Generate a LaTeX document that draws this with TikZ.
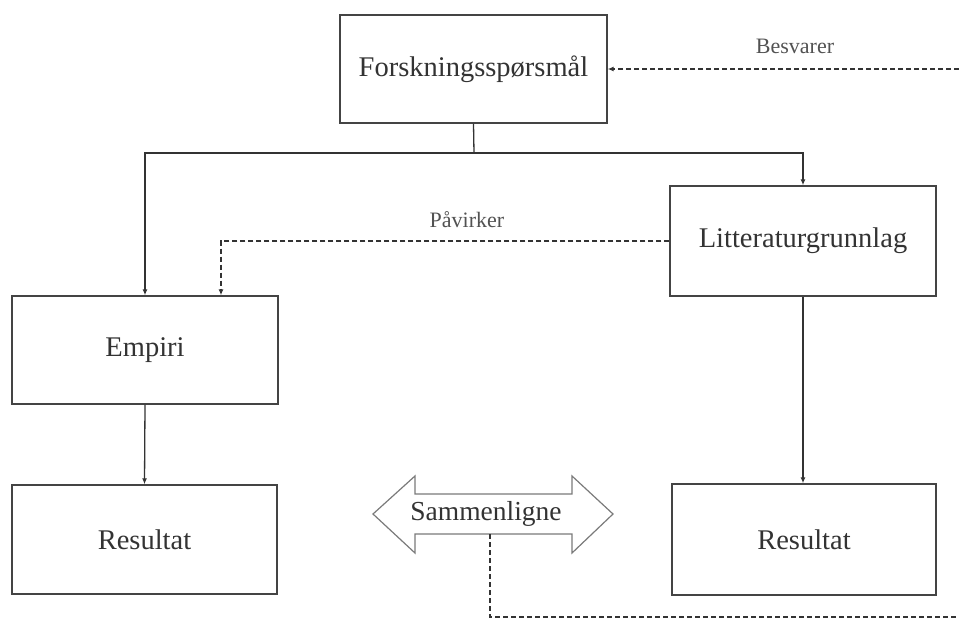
\documentclass[tikz,border=0pt]{standalone}
\usepackage{fontspec}
\setmainfont{Liberation Serif}
\usetikzlibrary{arrows.meta}
\definecolor{ink}{HTML}{333333}
\definecolor{frame}{HTML}{444444}
\definecolor{outline}{HTML}{7A7A7A}
\begin{document}
\begin{tikzpicture}[x=1pt,y=-1pt,
  box/.style={draw=frame,line width=1.4pt,rectangle,inner sep=0pt,text=ink,
    font=\fontsize{28.5}{31}\selectfont},
  lbl/.style={inner sep=0pt,text=ink!85,font=\fontsize{22}{26}\selectfont},
  link/.style={draw=ink,line width=1.3pt,-{Latex[length=6pt,width=5pt]}},
  hint/.style={link,dash pattern=on 5pt off 3pt}]
\path[use as bounding box] (0,0) rectangle (959,619);

% boxes
\node[box,minimum width=267pt,minimum height=108pt] (fq)   at (473.5,69)  {Forskningsspørsmål};
\node[box,minimum width=266pt,minimum height=110pt] (lit)  at (803,241)   {Litteraturgrunnlag};
\node[box,minimum width=266pt,minimum height=108pt] (emp)  at (145,350)   {Empiri};
\node[box,minimum width=265pt,minimum height=109pt] (resl) at (144.5,539.5) {Resultat};
\node[box,minimum width=264pt,minimum height=111pt] (resr) at (804,539.5) {Resultat};

% double arrow for comparison
\draw[outline,line width=1.2pt,line join=miter]
  (373,514) -- (415,476) -- (415,494) -- (572,494) -- (572,476) -- (613,514)
  -- (572,553) -- (572,534) -- (415,534) -- (415,553) -- cycle;
\node[inner sep=0pt,text=ink,font=\fontsize{27.5}{30}\selectfont] (cmp) at (486,514) {Sammenligne};
\coordinate (cmpfoot) at (490,534);
\coordinate (cmpend) at (959,617);

% labels
\node[lbl] (besv) at (795,46) {Besvarer};
\node[lbl] (pav)  at (467,220) {Påvirker};

% connectors
\coordinate (split) at (474,153);
\draw[draw=ink,line width=1.3pt] (fq.south) -- (split);
\draw[link] (split) -| (emp.north);
\draw[link] (split) -| (lit.north);
\draw[link] (emp.south) -- (resl.north);
\draw[link] (lit.south) -- (resr.north -| lit.south);
\draw[hint] (lit.west) -| ([xshift=76pt]emp.north);
\coordinate (besstart) at (959,69);
\draw[hint] (besstart) -- (fq.east);
\draw[draw=ink,line width=1.3pt,dash pattern=on 5pt off 3pt] (cmpfoot) |- (cmpend);
\end{tikzpicture}
\end{document}
